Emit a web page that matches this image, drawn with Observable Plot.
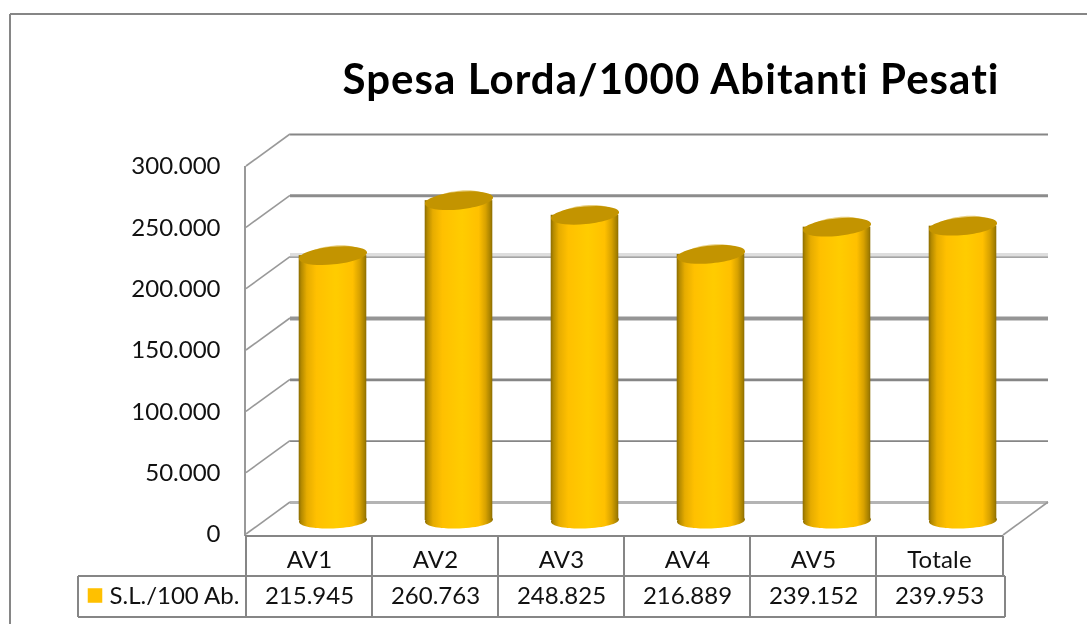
<!DOCTYPE html>
<html>
<head>
<meta charset="utf-8">
<style>
html,body{margin:0;padding:0;background:#fff}
svg{display:block;filter:blur(0.35px)}
svg text{font-variant-ligatures:none}
.chart-title text{letter-spacing:1.05px}
.table-label text{letter-spacing:0.2px}
</style>
<script src="https://cdn.jsdelivr.net/npm/d3@7"></script>
<script src="https://cdn.jsdelivr.net/npm/@observablehq/plot@0.6"></script>
</head>
<body>
<div id="chart"></div>
<script>
const categories = ["AV1", "AV2", "AV3", "AV4", "AV5", "Totale"];
const values = [215945, 260763, 248825, 216889, 239152, 239953];
const yTicks = [0, 50000, 100000, 150000, 200000, 250000, 300000];
const seriesName = "S.L./100 Ab.";
const titleText = "Spesa Lorda/1000 Abitanti Pesati";

const rows = categories.map((c, i) => ({category: c, value: values[i]}));
const fmt = d3.formatLocale({decimal: ",", thousands: ".", grouping: [3], currency: ["", "€"]}).format(",d");

const GREY = "#868686";
const depthX = 45, depthY = -32;        // wall offset of the 3D box
const barDx = 23.5, barDy = -14;        // cylinders stand mid-depth

// back-wall line weights as they appear in the reference, by tick
const gridWeight = new Map([[0, 3], [50000, 1.8], [100000, 2.6], [150000, 4], [200000, 1.2], [250000, 3], [300000, 1.8]]);
const gridColor = new Map([[0, "#b4b4b4"], [50000, "#868686"], [100000, "#868686"], [150000, "#959595"], [200000, "#868686"], [250000, "#8c8c8c"], [300000, "#868686"]]);

function ellipse(rx, ry, tiltDeg) {
  const t = tiltDeg * Math.PI / 180, c = Math.cos(t), s = Math.sin(t), k = 0.5523;
  const P = (x, y) => [x * c - y * s, x * s + y * c];
  return {draw(ctx) {
    ctx.moveTo(...P(rx, 0));
    ctx.bezierCurveTo(...P(rx, k * ry), ...P(k * rx, ry), ...P(0, ry));
    ctx.bezierCurveTo(...P(-k * rx, ry), ...P(-rx, k * ry), ...P(-rx, 0));
    ctx.bezierCurveTo(...P(-rx, -k * ry), ...P(-k * rx, -ry), ...P(0, -ry));
    ctx.bezierCurveTo(...P(k * rx, -ry), ...P(rx, -k * ry), ...P(rx, 0));
    ctx.closePath();
  }};
}

const defs = () => {
  const d = d3.create("svg:defs");
  const g = d.append("linearGradient").attr("id", "cyl").attr("x1", 0).attr("x2", 1).attr("y1", 0).attr("y2", 0);
  [[0, "#8c6c00"], [0.04, "#b48a00"], [0.12, "#e6ac00"], [0.26, "#ffc000"], [0.55, "#ffcc00"],
   [0.8, "#ffc000"], [0.9, "#d8a200"], [0.97, "#a88200"], [1, "#8c6c00"]]
    .forEach(([o, c]) => g.append("stop").attr("offset", o).attr("stop-color", c));
  return d.node();
};

// Box lines that follow the scales: border, wall diagonals, axis line, table grid
const frame = (index, {x, y}, values, dims) => {
  const g = d3.create("svg:g").attr("fill", "none").attr("stroke", GREY);
  const line = (a, b, c, e, w = 2, col = GREY) =>
    g.append("line").attr("x1", a).attr("y1", b).attr("x2", c).attr("y2", e).attr("stroke-width", w).attr("stroke", col);
  const left = dims.marginLeft, right = dims.width - dims.marginRight;
  const y0 = y(0), yTop = y(300000);
  line(10, 14, dims.width, 14);
  line(10, 14, 10, dims.height);
  for (const t of yTicks) line(left + 1, y(t), left + depthX, y(t) + depthY, 1.6, "#999");
  line(left, yTop, left, y0 + 2, 2, "#999");
  line(right, y0 + 1, right + depthX, y0 + depthY, 1.6, "#999");
  // table
  const t0 = y0 + 2, t1 = y0 + 42, t2 = y0 + 83, tableLeft = 78;
  line(left, t0, right, t0);
  line(tableLeft, t1, right + 2, t1);
  line(tableLeft, t2, right + 2, t2);
  line(tableLeft, t1, tableLeft, t2);
  for (const c of categories) line(x(c), t0, x(c), t2);
  line(right, t0, right, t1);
  line(right + 2, t1, right + 2, t2);
  return g.node();
};

const plot = Plot.plot({
  width: 1087, height: 624,
  marginLeft: 245, marginRight: 84, marginTop: 166, marginBottom: 90,
  style: {fontFamily: "Lato, sans-serif", background: "#fff"},
  x: {domain: categories, padding: 0, axis: null},
  y: {domain: [0, 300000], ticks: yTicks, axis: null},
  marks: [
    defs,
    Plot.ruleY([200000], {dx: depthX, dy: depthY - 2.5, stroke: "#dedede", strokeWidth: 3.5}),
    Plot.ruleY(yTicks, {y: d => d, dx: depthX, dy: depthY, stroke: d => gridColor.get(d), strokeWidth: d => gridWeight.get(d), strokeOpacity: 1}),
    frame,
    Plot.axisY(yTicks, {anchor: "left", label: null, tickSize: 0, tickPadding: 25, tickFormat: d => fmt(d), fontSize: 24, fill: "#111"}),
    // cylinders
    Plot.dot(rows, {x: "category", y: () => 0, dx: barDx, dy: barDy, symbol: ellipse(34, 8, -2), r: 5, fill: "url(#cyl)", stroke: "none"}),
    Plot.barY(rows, {x: "category", y: "value", dx: barDx, dy: barDy, insetLeft: 29.2, insetRight: 29.2, fill: "url(#cyl)"}),
    Plot.dot(rows, {x: "category", y: "value", dx: barDx + 1, dy: barDy - 1.5, symbol: ellipse(27, 8.5, -5), r: 5, fill: "#e8cf80", stroke: "none"}),
    Plot.dot(rows, {x: "category", y: "value", dx: barDx, dy: barDy, symbol: ellipse(34.2, 8.8, -5.5), r: 5, fill: "#c39400", stroke: "none"}),
    // title
    Plot.text([titleText], {className: "chart-title", frameAnchor: "top-left", dx: 97, dy: -86, text: d => d, fontSize: 42, fontWeight: 700, textAnchor: "start", lineAnchor: "middle", fill: "#000"}),
    // data table
    Plot.text(rows, {className: "table-label", x: "category", frameAnchor: "bottom", dy: 26, text: "category", fontSize: 24, lineAnchor: "middle", fill: "#111"}),
    Plot.text(rows, {x: "category", frameAnchor: "bottom", dy: 62, text: d => fmt(d.value), fontSize: 24, lineAnchor: "middle", fill: "#111"}),
    Plot.dot([seriesName], {frameAnchor: "bottom-left", dx: -150.5, dy: 61, symbol: "square", r: 8.2, fill: "#ffc000", stroke: "none"}),
    Plot.text([seriesName], {frameAnchor: "bottom-left", dx: -136, dy: 62, text: d => d, fontSize: 24, textAnchor: "start", lineAnchor: "middle", fill: "#111"})
  ]
});
document.getElementById("chart").append(plot);
</script>
</body>
</html>
